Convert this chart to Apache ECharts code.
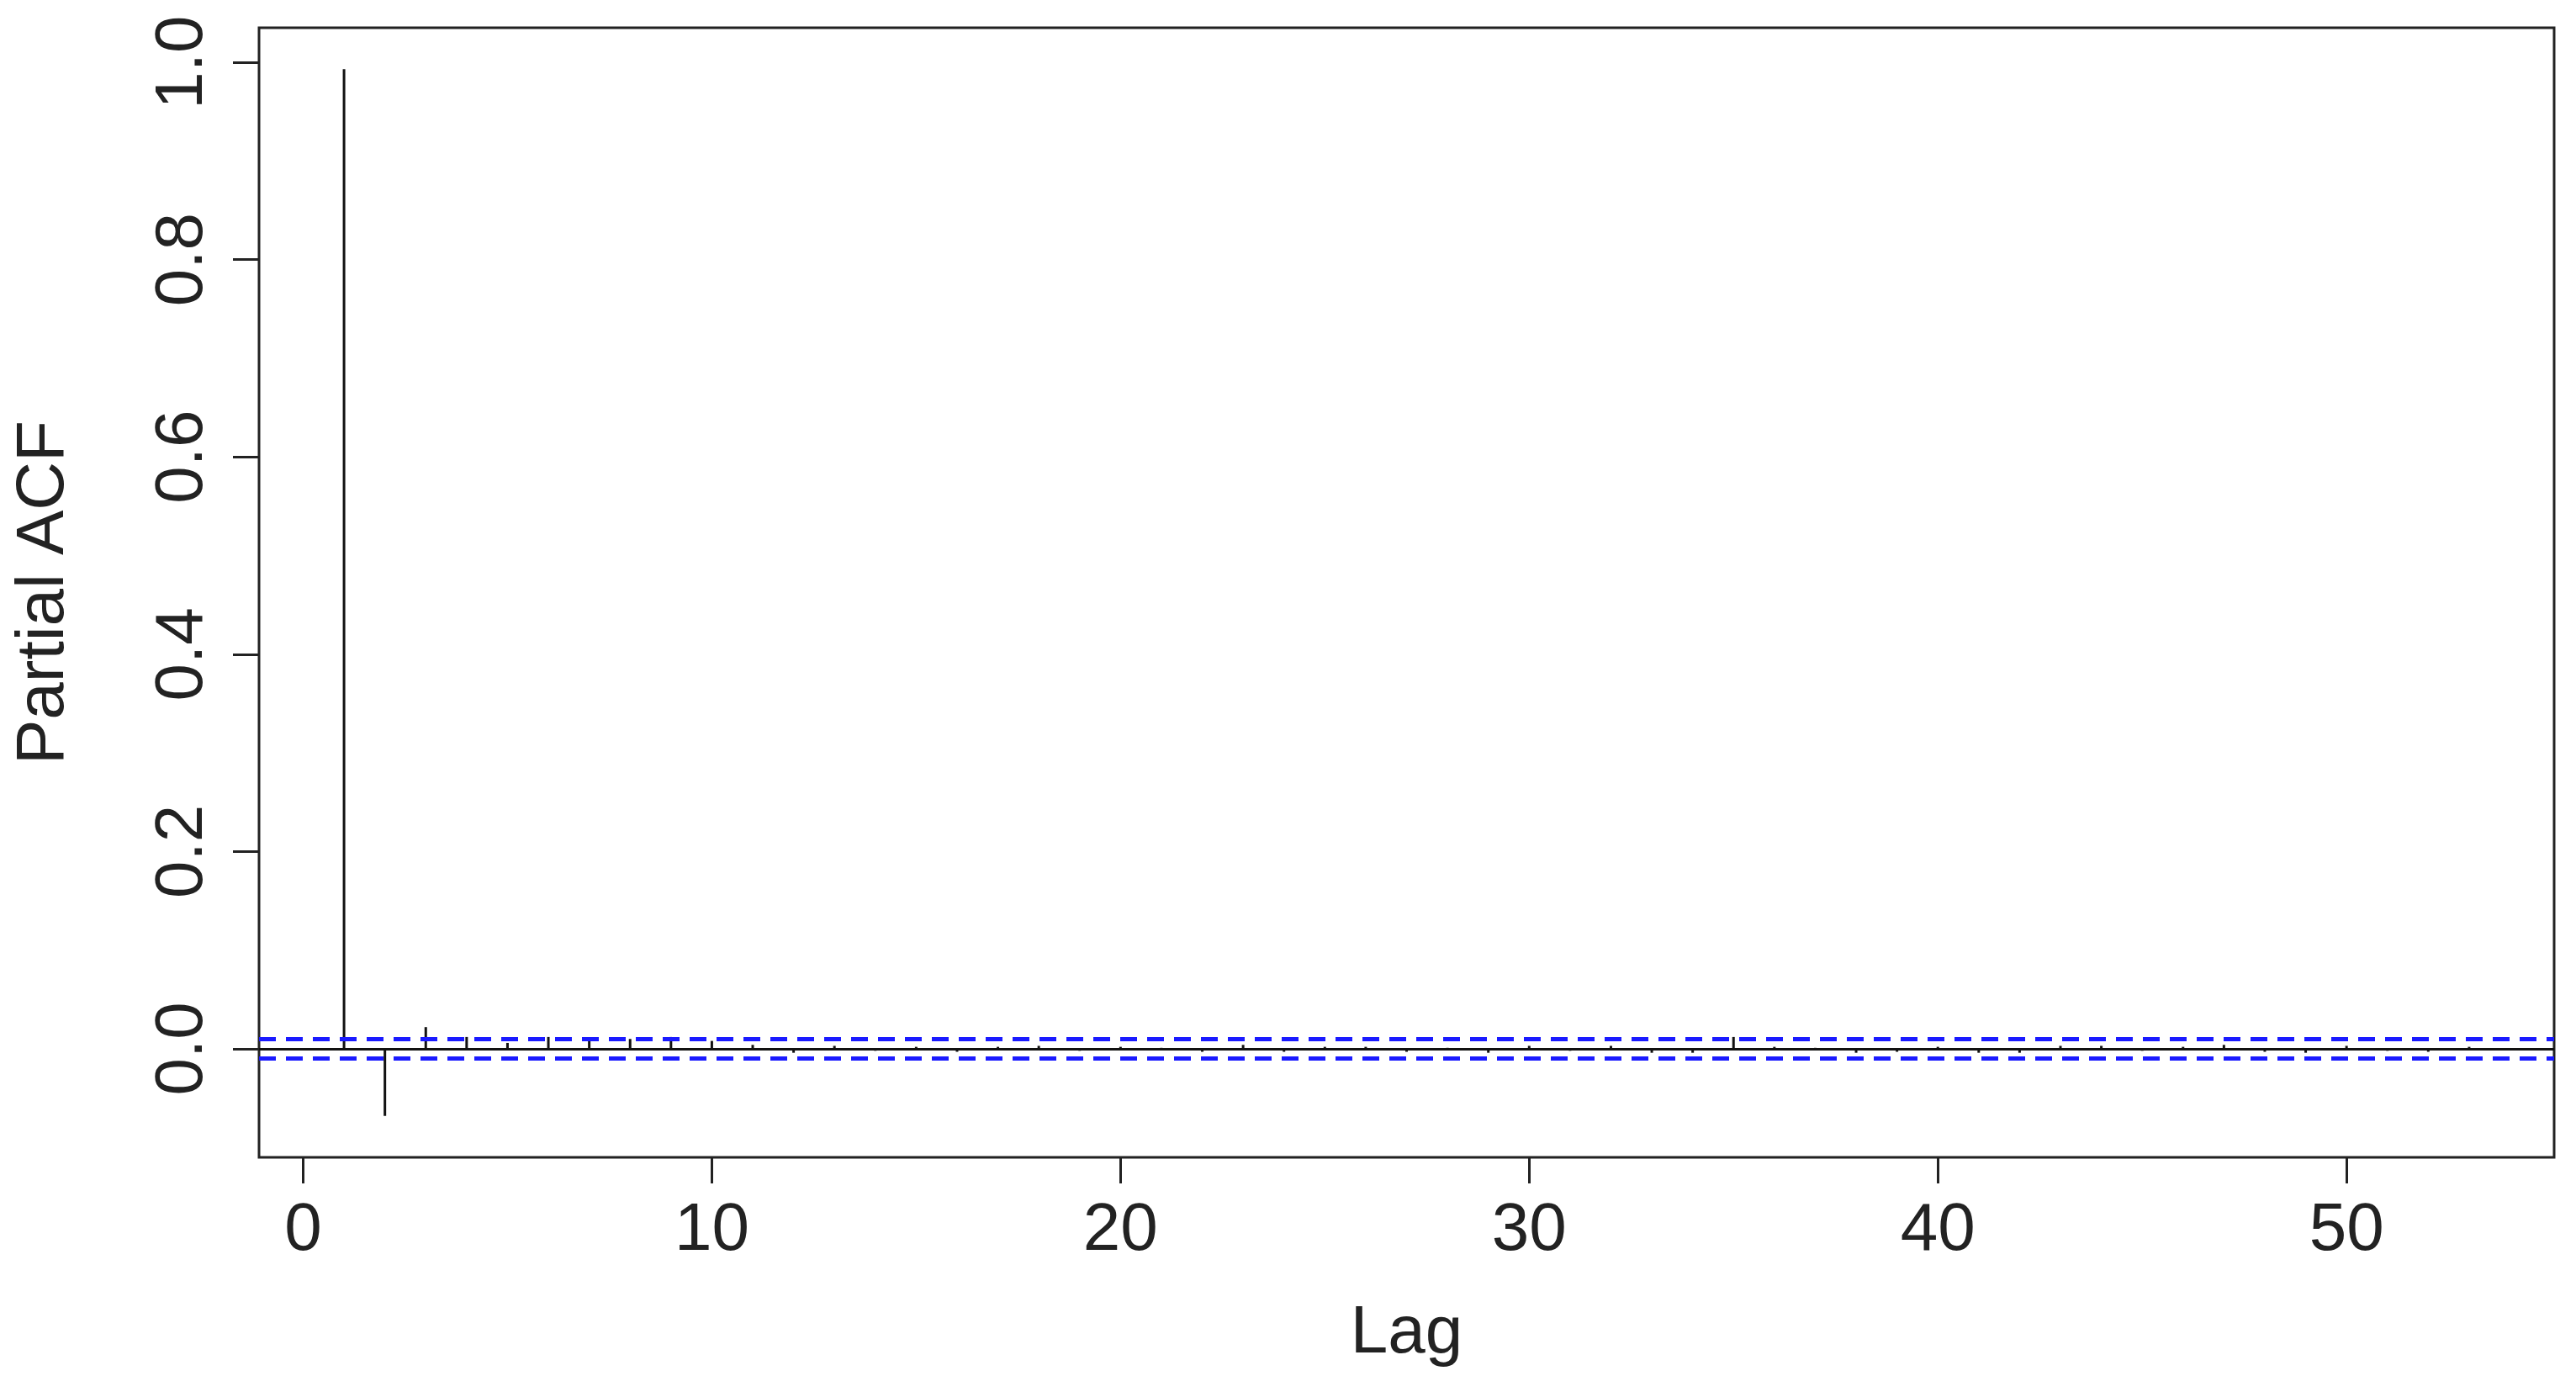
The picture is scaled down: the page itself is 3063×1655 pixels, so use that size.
<!DOCTYPE html>
<html>
<head>
<meta charset="utf-8">
<script src="https://cdn.jsdelivr.net/npm/echarts@6/dist/echarts.min.js"></script>
<style>html,body{margin:0;padding:0;background:#fff}#chart{width:3063px;height:1655px}</style>
</head>
<body>
<div id="chart"></div>
<script>
// partial autocorrelation, lags 1..53
var lags = [];
for (var i = 1; i <= 53; i++) lags.push(i);
var pacf = [0.993, -0.068, 0.022, 0.012, 0.006, 0.012, 0.010, 0.010, 0.012, 0.008,
	0.004, -0.004, 0.003, -0.002, 0.002, -0.003, 0.002, 0.003, -0.002, 0.002,
	0.001, -0.003, 0.004, -0.003, 0.002, 0.002, -0.003, 0.001, -0.004, 0.003,
	-0.002, 0.003, -0.004, -0.004, 0.012, 0.002, 0.001, -0.004, -0.003, 0.002,
	-0.004, -0.004, 0.003, 0.003, -0.002, 0.002, 0.004, -0.003, -0.004, 0.003,
	-0.002, -0.003, 0.002];
var ciBound = 0.005;
var xTicks = [0, 10, 20, 30, 40, 50];
var yTicks = [0, 0.2, 0.4, 0.6, 0.8, 1.0];

var chart = echarts.init(document.getElementById('chart'));
var labelStyle = { color: '#222', fontSize: 80, fontFamily: 'Liberation Sans, Arial, sans-serif' };
var tickStyle = { color: '#222', width: 3 };

chart.setOption({
	animation: false,
	grid: { left: 308, right: 26, top: 33, bottom: 279, show: true, borderColor: '#222', borderWidth: 3 },
	xAxis: {
		type: 'value', min: -1.08, max: 55.08,
		name: 'Lag', nameLocation: 'middle', nameGap: 170,
		nameTextStyle: labelStyle,
		axisLine: { show: false, onZero: false },
		splitLine: { show: false },
		axisTick: { show: true, inside: false, length: 31, lineStyle: tickStyle, customValues: xTicks },
		axisLabel: Object.assign({ margin: 48, customValues: xTicks }, labelStyle)
	},
	yAxis: {
		type: 'value', min: -0.11, max: 1.035,
		name: 'Partial ACF', nameLocation: 'middle', nameGap: 215, nameRotate: 90,
		nameTextStyle: labelStyle,
		axisLine: { show: false, onZero: false },
		splitLine: { show: false },
		axisTick: { show: true, inside: false, length: 31, lineStyle: tickStyle, customValues: yTicks },
		axisLabel: Object.assign({ margin: 50, rotate: 90, customValues: yTicks,
			formatter: function (v) { return v.toFixed(1); } }, labelStyle)
	},
	series: [{
		type: 'bar',
		barWidth: 3,
		itemStyle: { color: '#111' },
		data: lags.map(function (l, i) { return [l, pacf[i]]; }),
		markLine: {
			symbol: 'none', silent: true, label: { show: false },
			data: [
				{ yAxis: 0, lineStyle: { color: '#111', width: 3, type: 'solid' } },
				{ yAxis: ciBound, lineStyle: { color: '#1a1aff', width: 5, type: [20, 12] } },
				{ yAxis: -ciBound, lineStyle: { color: '#1a1aff', width: 5, type: [20, 12] } }
			]
		}
	}]
});
</script>
</body>
</html>
